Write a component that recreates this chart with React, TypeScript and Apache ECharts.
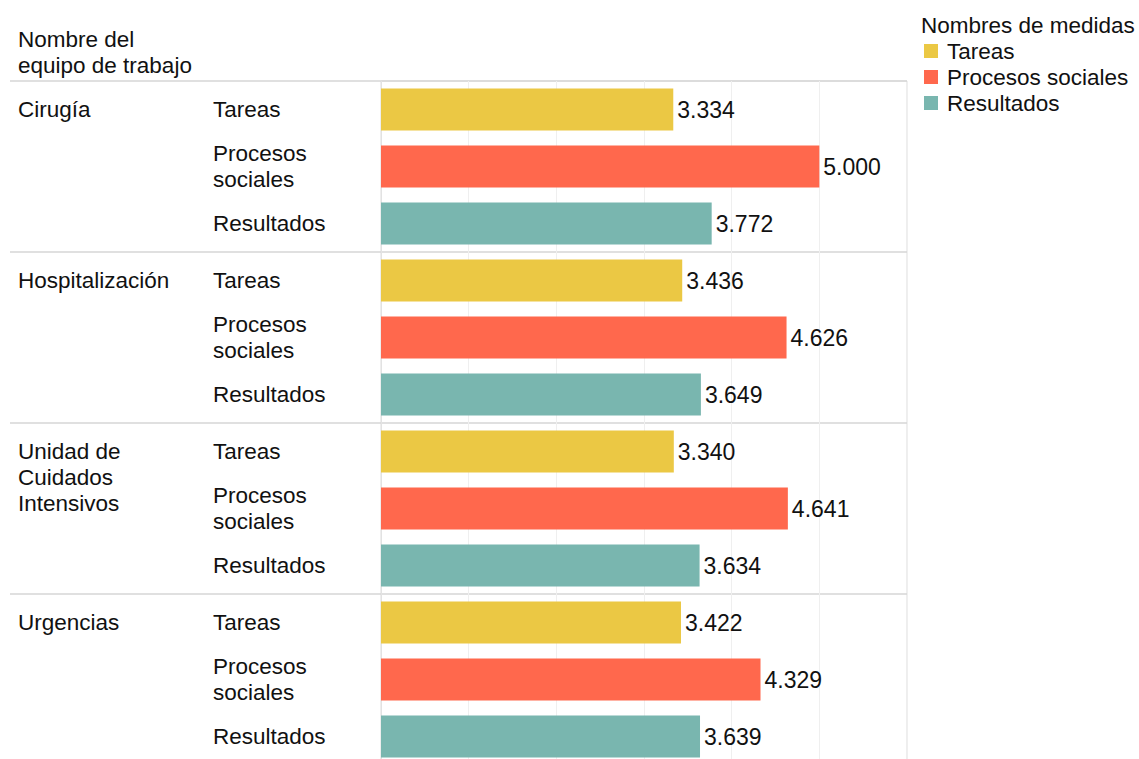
import React, { useEffect, useRef } from 'react';
import * as echarts from 'echarts';

const groups = ['Cirugía', 'Hospitalización', 'Unidad de Cuidados Intensivos', 'Urgencias'];
const groupLabels = ['Cirugía', 'Hospitalización', 'Unidad de\nCuidados\nIntensivos', 'Urgencias'];
const measures = ['Tareas', 'Procesos sociales', 'Resultados'];
const measureLabels = ['Tareas', 'Procesos\nsociales', 'Resultados'];
const tareas = [3.334, 3.436, 3.34, 3.422];
const procesos = [5.0, 4.626, 4.641, 4.329];
const resultados = [3.772, 3.649, 3.634, 3.639];
const colors = ['#EBC844', '#FF684D', '#79B6AF'];

const FONT = '"Liberation Sans", Arial, sans-serif';
const TEXT = '#111111';
const FS = 22.5;

export default function App() {
  const ref = useRef<HTMLDivElement>(null);
  useEffect(() => {
    if (!ref.current) return;
    const chart = echarts.init(ref.current, undefined, { renderer: 'svg' });
    const rows: string[] = [];
    groups.forEach((g) => measures.forEach((m) => rows.push(g + ' | ' + m)));
    const seriesValues = [tareas, procesos, resultados];
    const series = measures.map((m, mi) => ({
      name: m,
      type: 'bar',
      stack: 'all',
      xAxisIndex: 0,
      yAxisIndex: 0,
      barWidth: 42,
      itemStyle: { color: colors[mi] },
      label: {
        show: true,
        position: 'right',
        distance: 4,
        formatter: (p: any) => Number(p.value).toFixed(3),
        fontSize: 23,
        fontFamily: FONT,
        color: TEXT,
      },
      data: rows.map((_, ri) => (ri % 3 === mi ? seriesValues[mi][Math.floor(ri / 3)] : '-')),
    }));
    chart.setOption({
      animation: false,
      backgroundColor: '#ffffff',
      textStyle: { fontFamily: FONT },
      title: [
        {
          text: 'Nombre del\nequipo de trabajo',
          left: 18,
          top: 26,
          padding: 0,
          textStyle: { fontSize: FS, fontWeight: 'normal', lineHeight: 26, color: TEXT, fontFamily: FONT },
        },
        {
          text: 'Nombres de medidas',
          left: 921,
          top: 12,
          padding: 0,
          textStyle: { fontSize: FS, fontWeight: 'normal', lineHeight: 26, color: TEXT, fontFamily: FONT },
        },
      ],
      legend: {
        data: measures,
        orient: 'vertical',
        left: 924,
        top: 38,
        padding: 0,
        itemWidth: 14,
        itemHeight: 14,
        itemGap: 0,
        icon: 'rect',
        selectedMode: false,
        textStyle: { fontSize: FS, lineHeight: 26, color: TEXT, fontFamily: FONT, padding: [0, 0, 0, 4] },
      },
      grid: [
        {
          left: 381,
          top: 81,
          width: 526,
          height: 684,
          show: true,
          borderColor: '#dcdcdc',
          borderWidth: 1,
          backgroundColor: 'transparent',
        },
        { left: 10, top: 81, width: 371, height: 684 },
      ],
      xAxis: [
        {
          gridIndex: 0,
          type: 'value',
          min: 0,
          max: 6,
          interval: 1,
          axisLabel: { show: false },
          axisLine: { show: false },
          axisTick: { show: false },
          splitLine: { show: true, lineStyle: { color: '#efefef', width: 1 } },
        },
        { gridIndex: 1, type: 'value', show: false, min: 0, max: 1 },
      ],
      yAxis: [
        {
          gridIndex: 0,
          type: 'category',
          data: rows,
          inverse: true,
          axisLine: { show: true, lineStyle: { color: '#e2e2e2' } },
          axisTick: { show: false },
          axisLabel: {
            interval: () => true,
            formatter: (_v: string, i: number) => measureLabels[i % 3],
            align: 'left',
            margin: 168,
            fontSize: FS,
            lineHeight: 26,
            color: TEXT,
            fontFamily: FONT,
          },
          splitLine: { show: true, interval: 2, lineStyle: { color: '#d6d6d6', width: 1.5 } },
        },
        {
          gridIndex: 1,
          type: 'category',
          data: rows,
          inverse: true,
          axisLine: { show: false },
          axisTick: { show: false },
          axisLabel: {
            inside: true,
            interval: () => true,
            margin: 8,
            align: 'left',
            formatter: (_v: string, i: number) => {
              if (i % 3 !== 0) return '';
              const lbl = groupLabels[Math.floor(i / 3)];
              const n = lbl.split('\n').length;
              return '\n'.repeat(n - 1) + lbl;
            },
            fontSize: FS,
            lineHeight: 26,
            color: TEXT,
            fontFamily: FONT,
          },
          splitLine: { show: true, interval: 2, lineStyle: { color: '#d6d6d6', width: 1.5 } },
        },
      ],
      series,
    });
    return () => chart.dispose();
  }, []);
  return (
    <div style={{ position: 'absolute', left: 0, top: 0, width: 1139, height: 759, overflow: 'hidden' }}>
      <div ref={ref} style={{ width: 1139, height: 775 }} />
    </div>
  );
}
